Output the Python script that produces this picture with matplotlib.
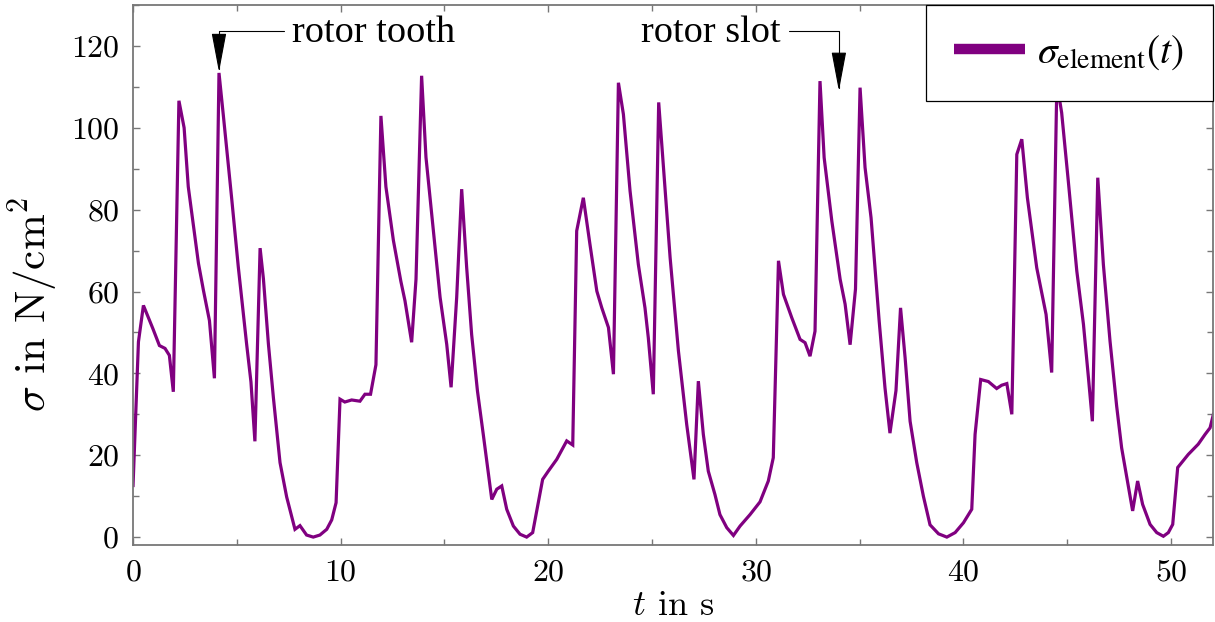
import matplotlib
matplotlib.use("Agg")
import matplotlib.pyplot as plt
from matplotlib.font_manager import FontProperties
from matplotlib.lines import Line2D
from matplotlib.patches import ArrowStyle
from matplotlib.ticker import MultipleLocator

plt.rcParams.update({
    "font.family": "cmr10",
    "mathtext.fontset": "cm",
    "axes.formatter.use_mathtext": True,
})

# === Data ===
t_s = [
    0.00, 0.26, 0.50, 0.95, 1.27, 1.54, 1.75, 1.94, 2.21, 2.46, 2.66, 3.15, 3.39, 3.68, 3.92,
    4.14, 4.35, 4.75, 5.07, 5.47, 5.68, 5.87, 6.12, 6.28, 6.52, 6.76, 7.08, 7.40, 7.80, 8.04,
    8.36, 8.68, 9.00, 9.33, 9.57, 9.78, 9.97, 10.20, 10.53, 10.93, 11.17, 11.44, 11.70, 11.94,
    12.18, 12.54, 12.90, 13.10, 13.42, 13.63, 13.90, 14.11, 14.47, 14.79, 15.11, 15.32, 15.59,
    15.83, 16.07, 16.31, 16.59, 16.87, 17.28, 17.52, 17.76, 18.00, 18.32, 18.64, 18.96, 19.25,
    19.73, 20.00, 20.41, 20.89, 21.18, 21.37, 21.69, 22.01, 22.34, 22.58, 22.90, 23.14, 23.38,
    23.62, 23.94, 24.34, 24.66, 24.82, 25.06, 25.32, 25.54, 25.87, 26.27, 26.67, 27.02, 27.23,
    27.47, 27.71, 28.03, 28.27, 28.60, 28.92, 29.24, 29.72, 30.20, 30.60, 30.84, 31.09, 31.33,
    31.73, 32.13, 32.37, 32.61, 32.85, 33.09, 33.29, 33.66, 34.06, 34.30, 34.54, 34.80, 35.02,
    35.26, 35.55, 35.94, 36.22, 36.46, 36.75, 36.97, 37.19, 37.43, 37.75, 38.07, 38.39, 38.80,
    39.20, 39.60, 40.00, 40.40, 40.56, 40.83, 41.20, 41.60, 41.84, 42.09, 42.33, 42.57, 42.81,
    43.08, 43.53, 43.98, 44.25, 44.50, 44.73, 45.05, 45.46, 45.78, 46.02, 46.21, 46.47, 46.74,
    47.06, 47.38, 47.62, 48.15, 48.39, 48.63, 48.99, 49.31, 49.63, 49.87, 50.08, 50.32, 50.83,
    51.31, 51.64, 51.88, 52.04,
]
sigma_element = [
    12.6, 47.7, 56.6, 51.0, 46.8, 46.1, 44.4, 35.5, 106.6, 100.0, 85.6, 66.9, 60.3, 52.9, 38.8,
    113.4, 103.0, 82.8, 66.0, 47.2, 37.9, 23.4, 70.6, 63.1, 47.2, 34.1, 18.2, 9.8, 1.9, 2.8,
    0.5, 0.0, 0.5, 1.9, 4.2, 8.4, 33.7, 33.0, 33.5, 33.2, 34.9, 34.9, 42.1, 102.9,
    85.6, 72.5, 62.5, 57.7, 47.6, 63.0, 112.7, 92.8, 74.8, 58.6, 47.1, 36.6, 58.6,
    85.0, 65.9, 49.5, 35.7, 25.1, 9.2, 11.7, 12.5, 6.8, 2.7, 0.7, 0.0, 1.1,
    14.1, 16.1, 19.0, 23.5, 22.5, 74.8, 82.9, 71.5, 60.1, 56.0, 51.2, 39.8, 111.0,
    103.3, 84.6, 66.6, 56.0, 48.7, 34.9, 106.2, 91.1, 68.3, 45.5, 27.5, 14.1, 38.1,
    25.1, 16.1, 10.4, 5.5, 2.3, 0.4, 2.7, 5.5, 8.6, 13.7, 19.4, 67.5, 59.3,
    53.6, 48.3, 47.5, 44.2, 50.3, 111.4, 92.7, 77.2, 63.0, 56.9, 47.0, 60.6, 109.8,
    90.3, 78.0, 52.8, 36.5, 25.4, 35.8, 56.0, 43.8, 28.3, 18.2, 10.0, 3.0, 0.8,
    0.0, 1.1, 3.5, 6.8, 25.1, 38.5, 38.0, 36.3, 37.1, 37.5, 30.0, 93.5, 97.2,
    82.9, 65.8, 54.4, 40.2, 111.0, 103.7, 87.0, 65.0, 52.0, 39.0, 28.3, 87.8, 66.6,
    47.9, 32.0, 21.8, 6.4, 13.7, 8.0, 3.1, 1.1, 0.2, 1.1, 3.1, 17.0, 20.2,
    22.7, 25.1, 26.7, 30.0,
]

annot_labels = ["rotor tooth", "rotor slot"]
annot_targets = [(4.14, 113.6), (34.0, 109.0)]
annot_text_pos = [(7.66, 123.3), (31.2, 123.3)]

purple = "#800080"

fig = plt.figure(figsize=(12.15, 6.22), dpi=100)
ax = fig.add_axes([0.1095, 0.124, 0.8885, 0.868])

ax.plot(t_s, sigma_element, color=purple, linewidth=2.3, solid_joinstyle="miter")

ax.set_xlim(0, 52)
ax.set_ylim(-1.9, 130)
ax.xaxis.set_major_locator(MultipleLocator(10))
ax.xaxis.set_minor_locator(MultipleLocator(5))
ax.yaxis.set_major_locator(MultipleLocator(20))
ax.yaxis.set_minor_locator(MultipleLocator(10))
ax.tick_params(which="both", direction="in", top=True, right=True, color="#777777", width=1.0)
ax.tick_params(which="major", length=5, labelsize=23, pad=10)
ax.tick_params(which="minor", length=4)
for sp in ax.spines.values():
    sp.set_color("#777777")
    sp.set_linewidth(1.3)

ax.set_xlabel(r"$t$ in s", fontsize=26, labelpad=3)
ax.set_ylabel(r"$\sigma$ in N/cm$^2$", fontsize=31)
ax.yaxis.set_label_coords(-0.068, 0.445)

# arrows to the marked peaks
head = ArrowStyle("-|>", head_length=2.5, head_width=0.47)
for label, target, pos, side in zip(annot_labels, annot_targets, annot_text_pos, ["left", "right"]):
    ax.annotate(
        label, xy=target, xytext=pos, ha=side, va="center",
        fontsize=27.5, family="Liberation Serif",
        arrowprops=dict(
            arrowstyle=head, mutation_scale=10, color="black", lw=0.8,
            connectionstyle="angle,angleA=0,angleB=90,rad=0",
            relpos=(0.0, 0.55) if side == "left" else (1.0, 0.55),
            shrinkA=4, shrinkB=0,
        ),
    )

handle = Line2D([], [], color=purple, linewidth=7.5, solid_capstyle="butt")
leg = ax.legend(
    [handle], [r"$\sigma_{\mathrm{element}}(t)$"], loc="upper right",
    prop=FontProperties(family="Liberation Serif", size=28.5, math_fontfamily="stix"),
    borderaxespad=0, fancybox=False, framealpha=1, edgecolor="black",
    handlelength=1.8, handletextpad=0.3, borderpad=0.72,
)
leg.get_frame().set_linewidth(0.9)

fig.savefig("out.png", dpi=100)
